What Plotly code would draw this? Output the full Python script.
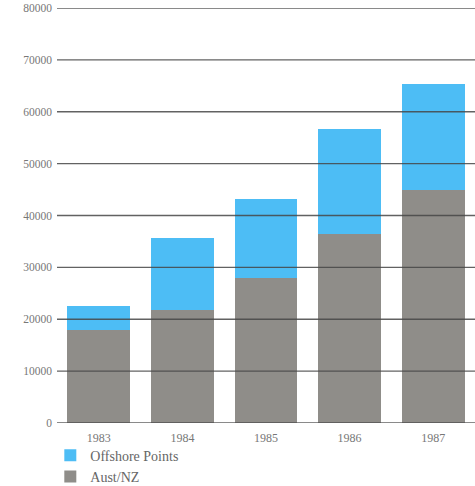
import plotly.graph_objects as go

years = ["1983", "1984", "1985", "1986", "1987"]
aust_nz = [18000, 21800, 27900, 36400, 44900]
totals = [22600, 35600, 43100, 56700, 65300]
offshore = [t - a for t, a in zip(totals, aust_nz)]
y_ticks = [0, 10000, 20000, 30000, 40000, 50000, 60000, 70000, 80000]

serif = "Liberation Serif, DejaVu Serif, serif"

fig = go.Figure()
fig.add_trace(go.Bar(x=years, y=aust_nz, name="Aust/NZ",
                     marker=dict(color="#8f8d89", line=dict(width=0))))
fig.add_trace(go.Bar(x=years, y=offshore, name="Offshore Points",
                     marker=dict(color="#4dbdf5", line=dict(width=0))))

# horizontal rules sit on top of the bars
for v in y_ticks:
    fig.add_hline(y=v, line=dict(color="rgba(70,70,70,0.85)", width=1.3), layer="above")

fig.update_layout(
    width=475, height=486,
    margin=dict(l=57, r=0, t=8, b=63, autoexpand=False),
    barmode="stack", bargap=0.25,
    paper_bgcolor="white", plot_bgcolor="white",
    font=dict(family=serif, color="#666666"),
    showlegend=True,
    legend=dict(x=-0.016, y=-0.04, xanchor="left", yanchor="top",
                traceorder="reversed", font=dict(size=14, color="#666666"),
                bgcolor="rgba(0,0,0,0)", itemwidth=30, tracegroupgap=0),
    xaxis=dict(showgrid=False, showline=False, ticks="",
               tickfont=dict(size=12, color="#777777"), ticklabelstandoff=6),
    yaxis=dict(range=[0, 80000], tickvals=y_ticks, tickformat="d", showgrid=False,
               zeroline=False, showline=False, ticks="",
               tickfont=dict(size=11.5, color="#777777"), ticklabelstandoff=4),
)

fig.write_html("out.html")
